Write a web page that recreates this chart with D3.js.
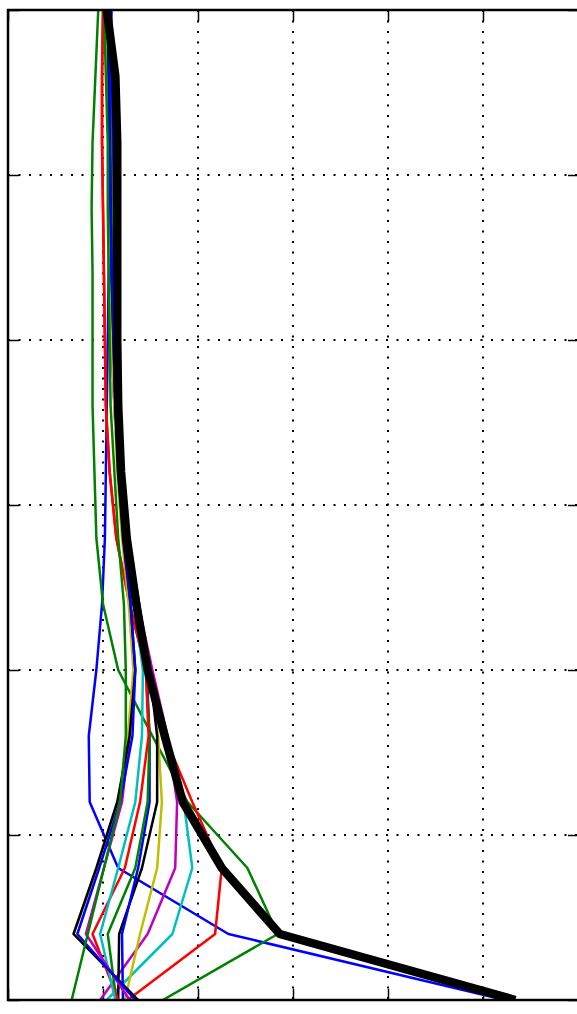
<!DOCTYPE html>
<html>
<head>
<meta charset="utf-8">
<script src="https://cdn.jsdelivr.net/npm/d3@7"></script>
<style>
  body { margin: 0; background: #fff; }
  svg { display: block; }
</style>
</head>
<body>
<svg id="mysvg" width="577" height="1014"></svg>
<script>
// heights of the profile levels (bottom -> top)
var levels = [0, 0.4, 0.8, 1.2, 1.6, 2.0, 2.4, 2.8, 3.2, 3.6, 4.0, 4.4, 4.8, 5.2, 5.6, 6.0];
var xTicks = [0, 1, 2, 3, 4, 5, 6];
var yTicks = [0, 1, 2, 3, 4, 5, 6];

// matplotlib classic colour cycle
var colors = ["#0000ff", "#008000", "#ff0000", "#00bfbf", "#bf00bf", "#bfbf00", "#000000"];

// individual profiles, one value per level
var run01 = [5.23, 2.32, 1.16, 0.86, 0.85, 0.93, 0.99, 1.02, 1.03, 1.04, 1.05, 1.06, 1.07, 1.07, 1.08, 1.09];
var run02 = [1.63, 2.84, 2.52, 1.89, 1.52, 1.16, 1.00, 0.93, 0.91, 0.89, 0.89, 0.89, 0.88, 0.89, 0.92, 0.95];
var run03 = [1.26, 2.18, 2.25, 1.94, 1.65, 1.45, 1.28, 1.14, 1.07, 1.03, 1.02, 1.01, 1.00, 0.99, 0.99, 1.00];
var run04 = [1.04, 1.73, 1.94, 1.85, 1.65, 1.49, 1.36, 1.23, 1.17, 1.13, 1.11, 1.09, 1.08, 1.07, 1.06, 1.05];
var run05 = [0.97, 1.47, 1.76, 1.78, 1.68, 1.52, 1.37, 1.25, 1.19, 1.15, 1.13, 1.12, 1.11, 1.09, 1.08, 1.06];
var run06 = [1.23, 1.39, 1.57, 1.62, 1.58, 1.49, 1.37, 1.26, 1.20, 1.16, 1.14, 1.13, 1.12, 1.11, 1.09, 1.07];
var run07 = [1.16, 1.17, 1.41, 1.57, 1.57, 1.49, 1.38, 1.27, 1.20, 1.16, 1.14, 1.13, 1.12, 1.11, 1.09, 1.07];
var run08 = [1.21, 1.20, 1.37, 1.49, 1.49, 1.46, 1.36, 1.26, 1.20, 1.16, 1.14, 1.13, 1.12, 1.11, 1.09, 1.07];
var run09 = [1.14, 1.05, 1.34, 1.47, 1.49, 1.45, 1.34, 1.24, 1.18, 1.14, 1.12, 1.11, 1.09, 1.08, 1.07, 1.05];
var run10 = [1.16, 0.89, 1.23, 1.39, 1.48, 1.45, 1.28, 1.14, 1.07, 1.03, 1.02, 1.01, 1.00, 0.99, 0.99, 1.00];
var run11 = [1.13, 0.97, 1.16, 1.34, 1.41, 1.42, 1.33, 1.22, 1.16, 1.12, 1.09, 1.08, 1.07, 1.06, 1.05, 1.04];
var run12 = [1.28, 0.82, 1.01, 1.20, 1.28, 1.33, 1.28, 1.21, 1.16, 1.12, 1.09, 1.08, 1.07, 1.06, 1.06, 1.05];
var run13 = [1.37, 0.69, 0.94, 1.16, 1.26, 1.32, 1.27, 1.20, 1.15, 1.12, 1.09, 1.08, 1.07, 1.07, 1.06, 1.05];
var run14 = [1.37, 0.69, 0.93, 1.15, 1.28, 1.34, 1.29, 1.21, 1.16, 1.13, 1.11, 1.09, 1.08, 1.07, 1.06, 1.05];
var run15 = [1.34, 0.73, 0.96, 1.18, 1.31, 1.34, 1.29, 1.22, 1.17, 1.13, 1.11, 1.09, 1.08, 1.07, 1.07, 1.06];
var run16 = [0.67, 0.84, 1.01, 1.18, 1.24, 1.24, 1.22, 1.16, 1.12, 1.08, 1.07, 1.06, 1.05, 1.05, 1.03, 1.01];

// mean profile (thick black)
var meanProfile = [5.34, 2.86, 2.25, 1.84, 1.65, 1.47, 1.35, 1.25, 1.19, 1.16, 1.15, 1.15, 1.15, 1.15, 1.13, 1.04];

var runs = [run01, run02, run03, run04, run05, run06, run07, run08,
            run09, run10, run11, run12, run13, run14, run15, run16];

function drawChart()
{
    var chartsvg = d3.select("#mysvg");
    var left = 8, right = 578, top = 10, bottom = 1000;

    var x = d3.scaleLinear().domain([0, 6]).range([left, right]);
    var y = d3.scaleLinear().domain([0, 6]).range([bottom, top]);

    var g = chartsvg.append("g");

    // dotted grid
    g.append("g")
        .selectAll("line")
        .data(xTicks)
        .enter()
        .append("line")
        .attr("x1", function(d) { return x(d) })
        .attr("x2", function(d) { return x(d) })
        .attr("y1", top)
        .attr("y2", bottom)
        .attr("stroke", "#000")
        .attr("stroke-width", 2)
        .attr("stroke-dasharray", "2,8.5");

    g.append("g")
        .selectAll("line")
        .data(yTicks)
        .enter()
        .append("line")
        .attr("x1", left)
        .attr("x2", right)
        .attr("y1", function(d) { return y(d) })
        .attr("y2", function(d) { return y(d) })
        .attr("stroke", "#000")
        .attr("stroke-width", 2)
        .attr("stroke-dasharray", "2,8.5");

    // inward ticks, no labels
    function styleAxis(sel) {
        sel.select(".domain").remove();
        sel.selectAll(".tick line").attr("stroke", "#000").attr("stroke-width", 1.5);
        sel.selectAll(".tick text").remove();
    }
    g.append("g").attr("transform", "translate(" + left + ",0)")
        .call(d3.axisRight(y).tickValues(yTicks).tickSize(11).tickFormat(""))
        .call(styleAxis);
    g.append("g").attr("transform", "translate(" + (right + 1) + ",0)")
        .call(d3.axisLeft(y).tickValues(yTicks).tickSize(11).tickFormat(""))
        .call(styleAxis);
    g.append("g").attr("transform", "translate(0," + bottom + ")")
        .call(d3.axisTop(x).tickValues(xTicks).tickSize(11).tickFormat(""))
        .call(styleAxis);
    g.append("g").attr("transform", "translate(0," + top + ")")
        .call(d3.axisBottom(x).tickValues(xTicks).tickSize(11).tickFormat(""))
        .call(styleAxis);

    var line = d3.line()
        .x(function(d) { return x(d[0]) })
        .y(function(d) { return y(d[1]) });

    function pairs(vals) {
        return vals.map(function(v, i) { return [v, levels[i]] });
    }

    chartsvg.append("defs").append("clipPath").attr("id", "plotclip")
        .append("rect").attr("x", left).attr("y", top)
        .attr("width", right - left).attr("height", bottom - top);

    var lines = chartsvg.append("g").attr("clip-path", "url(#plotclip)");

    lines.selectAll("path.run")
        .data(runs)
        .enter()
        .append("path")
        .attr("class", "run")
        .attr("d", function(d) { return line(pairs(d)) })
        .attr("fill", "none")
        .attr("stroke", function(d, i) { return colors[i % colors.length] })
        .attr("stroke-width", 2.5)
        .attr("stroke-linejoin", "round");

    lines.append("path")
        .attr("d", line(pairs(meanProfile)))
        .attr("fill", "none")
        .attr("stroke", "#000")
        .attr("stroke-width", 8.5)
        .attr("stroke-linejoin", "round");

    // frame (right spine sits just past the window edge)
    chartsvg.append("rect")
        .attr("x", left)
        .attr("y", top)
        .attr("width", right + 3 - left)
        .attr("height", bottom - top)
        .attr("fill", "none")
        .attr("stroke", "#000")
        .attr("stroke-width", 2.5);
}

drawChart();
</script>
</body>
</html>
